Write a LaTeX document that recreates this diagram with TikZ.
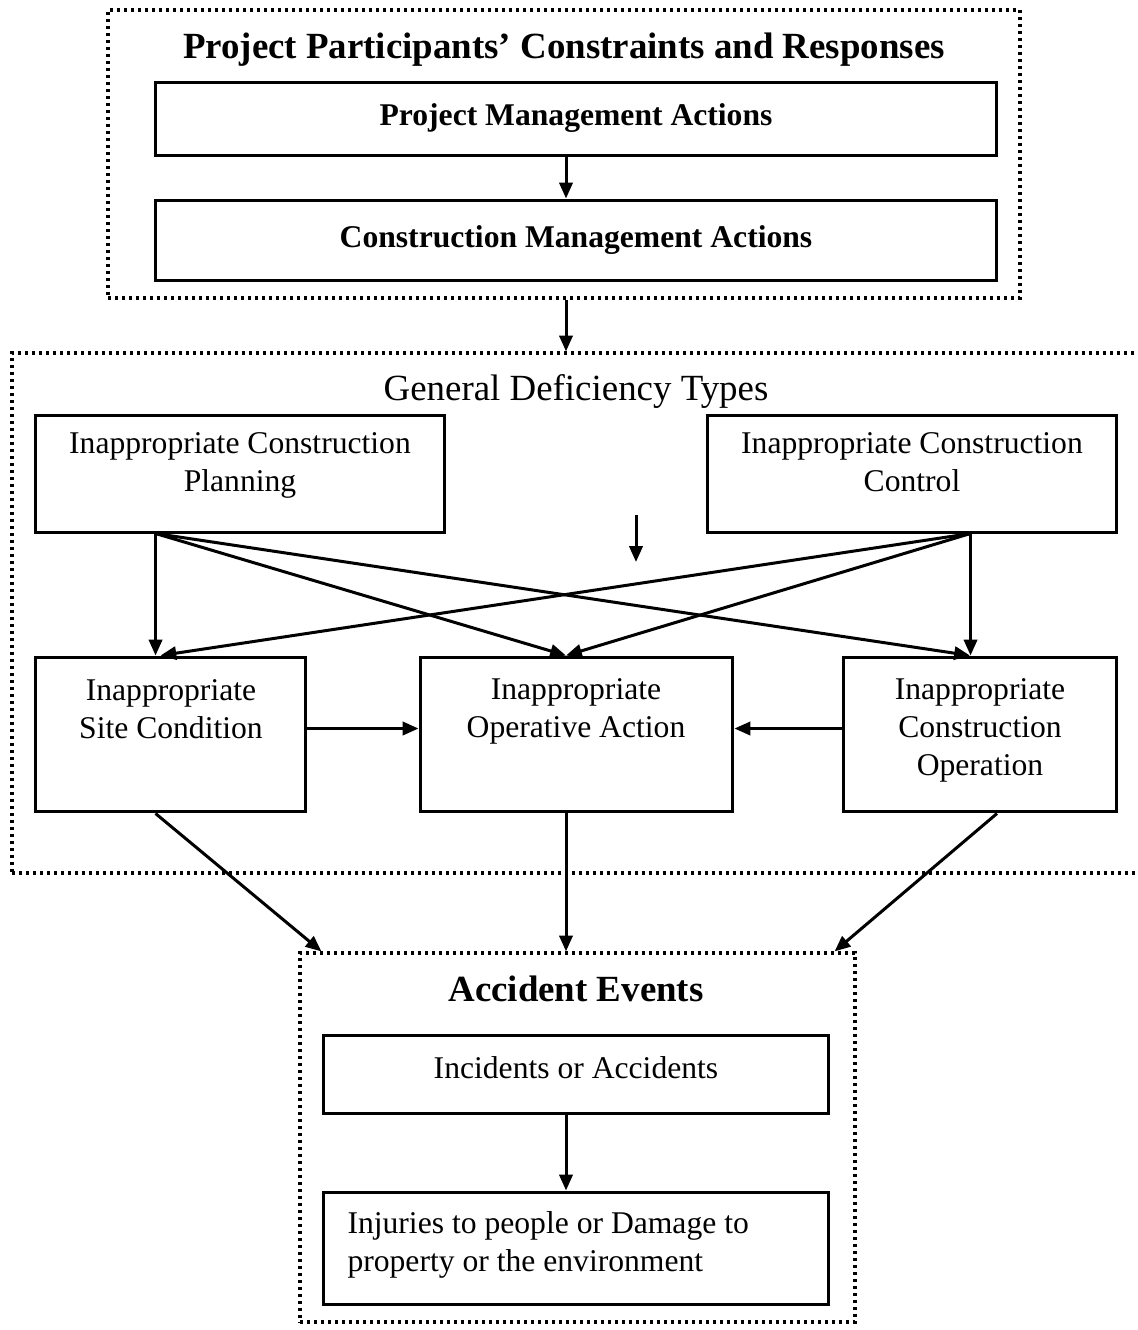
\documentclass[tikz,border=0pt]{standalone}
\usepackage{fontspec}
\setmainfont{Liberation Serif}
\usepackage{tikz}
\usetikzlibrary{arrows.meta,positioning,calc}

\tikzset{
  box/.style={draw, line width=0.06cm, inner sep=0pt},
  frame/.style={draw, line width=0.065cm, dash pattern=on 0.06cm off 0.08cm, inner sep=0pt},
  txt/.style={align=center, font=\fontsize{18pt}{21.6pt}\selectfont},
  head/.style={font=\fontsize{21pt}{25pt}\selectfont},
}

\begin{document}
\begin{tikzpicture}[x=0.02cm, y=-0.02cm, >={Triangle[length=9pt,width=7.5pt]}, line width=0.06cm]
\useasboundingbox (0,0) rectangle (1138,1330);
\coordinate (axis) at (566,0);

% dotted frames
\node[frame, minimum width=18.24cm, minimum height=5.76cm] (top) at (564,154) {};
\node[frame, minimum width=22.96cm, minimum height=10.4cm] (mid) at (586,613) {};
\node[frame, minimum width=11.1cm, minimum height=7.38cm] (bot) at (577.5,1137.5) {};
\node[head, font=\bfseries\fontsize{21pt}{25pt}\selectfont] (top-h) at (564,50) {Project Participants’ Constraints and Responses};
\node[head] (mid-h) at (576,391) {General Deficiency Types};
\node[head, font=\bfseries\fontsize{21pt}{25pt}\selectfont] (bot-h) at (576,989) {Accident Events};

% management actions
\node[box, txt, font=\bfseries\fontsize{18pt}{21.6pt}\selectfont, minimum width=16.84cm, minimum height=1.46cm] (pm) at (576,118.5) {Project Management Actions};
\node[box, txt, font=\bfseries\fontsize{18pt}{21.6pt}\selectfont, minimum width=16.84cm, minimum height=1.6cm] (cm) at (576,240) {Construction Management Actions};

% deficiency types
\node[box, minimum width=8.2cm, minimum height=2.34cm] (icp) at (240,473.5) {};
\node[box, minimum width=8.2cm, minimum height=2.34cm] (icc) at (912,473.5) {};
\node[txt] (icp-t) at (240,465) {Inappropriate Construction\\Planning};
\node[txt] (icc-t) at (912,462) {Inappropriate Construction\\Control};

\node[box, minimum width=5.42cm, minimum height=3.1cm] (isc) at (170.5,734.5) {};
\node[box, minimum width=6.26cm, minimum height=3.1cm] (ioa) at (576.5,734.5) {};
\node[box, minimum width=5.48cm, minimum height=3.1cm] (ico) at (980,734.5) {};
\node[txt] (isc-t) at (171,709) {Inappropriate\\Site Condition};
\node[txt] (ioa-t) at (576,711) {Inappropriate\\Operative Action};
\node[txt] (ico-t) at (980,730) {Inappropriate\\Construction\\Operation};

% accident events
\node[box, minimum width=10.12cm, minimum height=1.56cm] (ia) at (576,1074) {};
\node[box, minimum width=10.12cm, minimum height=2.24cm] (inj) at (576,1248) {};
\node[txt] (ia-t) at (576,1068) {Incidents or Accidents};
\node[txt, align=left, anchor=west, inner sep=0pt] (inj-t) at (346,1245) {Injuries to people or Damage to\\property or the environment};

\coordinate (icp-o) at ($(icp.south west)+(122,0)$);
\coordinate (icc-o) at ($(icc.south west)+(265,0)$);
\coordinate (s1) at (636,515);
\coordinate (s2) at (636,562);

\draw[->] (pm.south -| axis) -- (cm.north -| axis);
\draw[->] (top.south -| axis) -- (mid.north -| axis);
\draw[->] (s1) -- (s2);
\draw[->] (icp-o) -- (isc.north -| icp-o);
\draw[->] (icp-o) -- (ioa.north -| axis);
\draw[->] (icp-o) -- ($(ico.north)+(-10,0)$);
\draw[->] (icc-o) -- ($(isc.north)+(-10,0)$);
\draw[->] (icc-o) -- (ioa.north -| axis);
\draw[->] (icc-o) -- (ico.north -| icc-o);
\draw[->] ($(isc.east)+(0,-6)$) -- ($(ioa.west)+(0,-6)$);
\draw[->] ($(ico.west)+(0,-6)$) -- ($(ioa.east)+(0,-6)$);
\draw[->] ($(isc.south)+(-15,0)$) -- ($(bot.north west)+(23,0)$);
\draw[->] (ioa.south -| axis) -- (bot.north -| axis);
\draw[->] ($(ico.south)+(17,0)$) -- ($(bot.north east)+(-22,0)$);
\draw[->] (ia.south -| axis) -- (inj.north -| axis);
\end{tikzpicture}
\end{document}
